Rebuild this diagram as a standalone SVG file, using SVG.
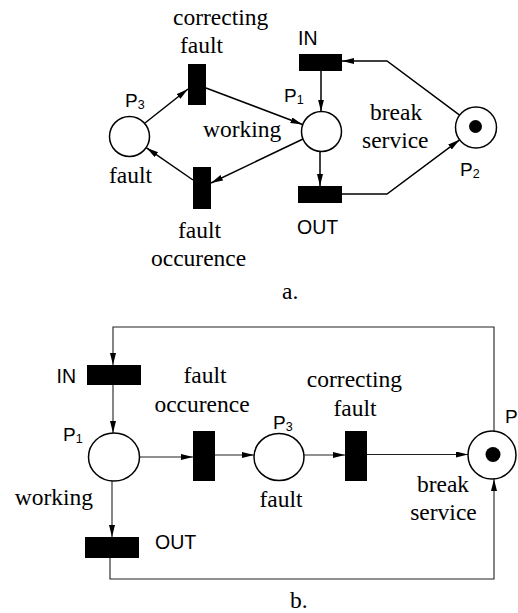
<svg xmlns="http://www.w3.org/2000/svg" width="518" height="613" viewBox="0 0 518 613">
  <style>
    .serif { font-family: "Liberation Serif", "Times New Roman", serif; font-size: 23.5px; fill: #000; }
    .sans { font-family: "Liberation Sans", Arial, sans-serif; font-size: 19.5px; fill: #000; }
    .plabel { font-family: "Liberation Sans", Arial, sans-serif; font-size: 19px; fill: #000; }
    .sub { font-size: 12.5px; }
    .place { fill: #fff; stroke: #000; stroke-width: 1.5; }
    .token { fill: #000; }
    .trans { fill: #000; }
    .arcA { fill: none; stroke: #000; stroke-width: 1.5; }
    .arcB { fill: none; stroke: #222; stroke-width: 1.1; }
  </style>
  <defs>
    <marker id="arrow" markerUnits="userSpaceOnUse" markerWidth="13" markerHeight="7" refX="12" refY="3" orient="auto">
      <path d="M0,0 L12,3 L0,6 Z" fill="#000"/>
    </marker>
  </defs>

  <rect width="518" height="613" fill="#fff"/>

  <!-- ===== a. ===== -->
  <g id="arcs-a">
    <line class="arcA" x1="145" y1="123" x2="188" y2="89" marker-end="url(#arrow)"/>
    <line class="arcA" x1="206" y1="88" x2="302.5" y2="124.5" marker-end="url(#arrow)"/>
    <line class="arcA" x1="321" y1="71" x2="321" y2="111.5" marker-end="url(#arrow)"/>
    <line class="arcA" x1="303" y1="139" x2="211" y2="183" marker-end="url(#arrow)"/>
    <line class="arcA" x1="193" y1="180" x2="146.5" y2="147.8" marker-end="url(#arrow)"/>
    <line class="arcA" x1="320" y1="151.5" x2="320" y2="186" marker-end="url(#arrow)"/>
    <polyline class="arcA" points="342,194 387,194 459.6,139.8" marker-end="url(#arrow)"/>
    <polyline class="arcA" points="459.6,115.2 387,61 342,61" marker-end="url(#arrow)"/>
  </g>

  <g id="a-P3">
    <circle class="place" cx="129.5" cy="136.5" r="20"/>
    <text class="plabel" x="125" y="107">P<tspan class="sub" dy="2">3</tspan></text>
    <text class="serif" x="109" y="183">fault</text>
  </g>
  <g id="a-P1">
    <circle class="place" cx="321.5" cy="131.5" r="20"/>
    <text class="plabel" x="284" y="102">P<tspan class="sub" dy="2">1</tspan></text>
    <text class="serif" x="203" y="137">working</text>
  </g>
  <g id="a-P2">
    <circle class="place" cx="476" cy="127.5" r="20.5"/>
    <circle class="token" cx="475.5" cy="126.5" r="6.5"/>
    <text class="plabel" x="460" y="176">P<tspan class="sub" dy="2">2</tspan></text>
    <text class="serif" x="370" y="120">break</text>
    <text class="serif" x="362" y="148">service</text>
  </g>
  <g id="a-correcting-fault">
    <rect class="trans" x="188" y="64" width="18" height="41"/>
    <text class="serif" x="173" y="25">correcting</text>
    <text class="serif" x="180" y="53">fault</text>
  </g>
  <g id="a-fault-occurence">
    <rect class="trans" x="193" y="167" width="18" height="42"/>
    <text class="serif" x="178" y="238">fault</text>
    <text class="serif" x="151" y="266">occurence</text>
  </g>
  <g id="a-IN">
    <rect class="trans" x="299" y="54" width="43" height="17"/>
    <text class="sans" x="298" y="45">IN</text>
  </g>
  <g id="a-OUT">
    <rect class="trans" x="298" y="186" width="44" height="17"/>
    <text class="sans" x="297" y="234">OUT</text>
  </g>
  <text class="serif" x="282" y="299">a.</text>

  <!-- ===== b. ===== -->
  <g id="arcs-b">
    <polyline class="arcB" points="494,431 494,327 113,327 113,365" marker-end="url(#arrow)"/>
    <line class="arcB" x1="113" y1="385" x2="113" y2="433" marker-end="url(#arrow)"/>
    <line class="arcB" x1="139.5" y1="457" x2="193" y2="457" marker-end="url(#arrow)"/>
    <line class="arcB" x1="215" y1="455" x2="254" y2="455" marker-end="url(#arrow)"/>
    <line class="arcB" x1="304" y1="455" x2="345" y2="455" marker-end="url(#arrow)"/>
    <line class="arcB" x1="367" y1="454.5" x2="468" y2="454.5" marker-end="url(#arrow)"/>
    <line class="arcB" x1="112" y1="481" x2="112" y2="537" marker-end="url(#arrow)"/>
    <polyline class="arcB" points="110,558 110,579 494,579 494,479" marker-end="url(#arrow)"/>
  </g>

  <g id="b-P1">
    <ellipse class="place" cx="114" cy="457" rx="25.5" ry="24"/>
    <text class="plabel" x="63" y="441">P<tspan class="sub" dy="2">1</tspan></text>
    <text class="serif" x="93" y="505" text-anchor="end">working</text>
  </g>
  <g id="b-P3">
    <ellipse class="place" cx="279" cy="457" rx="25" ry="23.5"/>
    <text class="plabel" x="273" y="429">P<tspan class="sub" dy="2">3</tspan></text>
    <text class="serif" x="281" y="507" text-anchor="middle">fault</text>
  </g>
  <g id="b-P2">
    <circle class="place" cx="492" cy="455" r="24"/>
    <circle class="token" cx="493" cy="454.5" r="7.5"/>
    <text class="plabel" x="505" y="423">P<tspan class="sub" dy="2">2</tspan></text>
    <text class="serif" x="443" y="492" text-anchor="middle">break</text>
    <text class="serif" x="443.5" y="520" text-anchor="middle">service</text>
  </g>
  <g id="b-IN">
    <rect class="trans" x="87" y="365" width="54" height="20"/>
    <text class="sans" x="76" y="383" text-anchor="end">IN</text>
  </g>
  <g id="b-fault-occurence">
    <rect class="trans" x="193" y="431" width="22" height="50"/>
    <text class="serif" x="205" y="383" text-anchor="middle">fault</text>
    <text class="serif" x="202" y="412" text-anchor="middle">occurence</text>
  </g>
  <g id="b-correcting-fault">
    <rect class="trans" x="345" y="431" width="22" height="50"/>
    <text class="serif" x="354.5" y="387" text-anchor="middle">correcting</text>
    <text class="serif" x="355" y="416" text-anchor="middle">fault</text>
  </g>
  <g id="b-OUT">
    <rect class="trans" x="85" y="537" width="54" height="21"/>
    <text class="sans" x="155" y="549">OUT</text>
  </g>
  <text class="serif" x="290" y="608">b.</text>
</svg>
